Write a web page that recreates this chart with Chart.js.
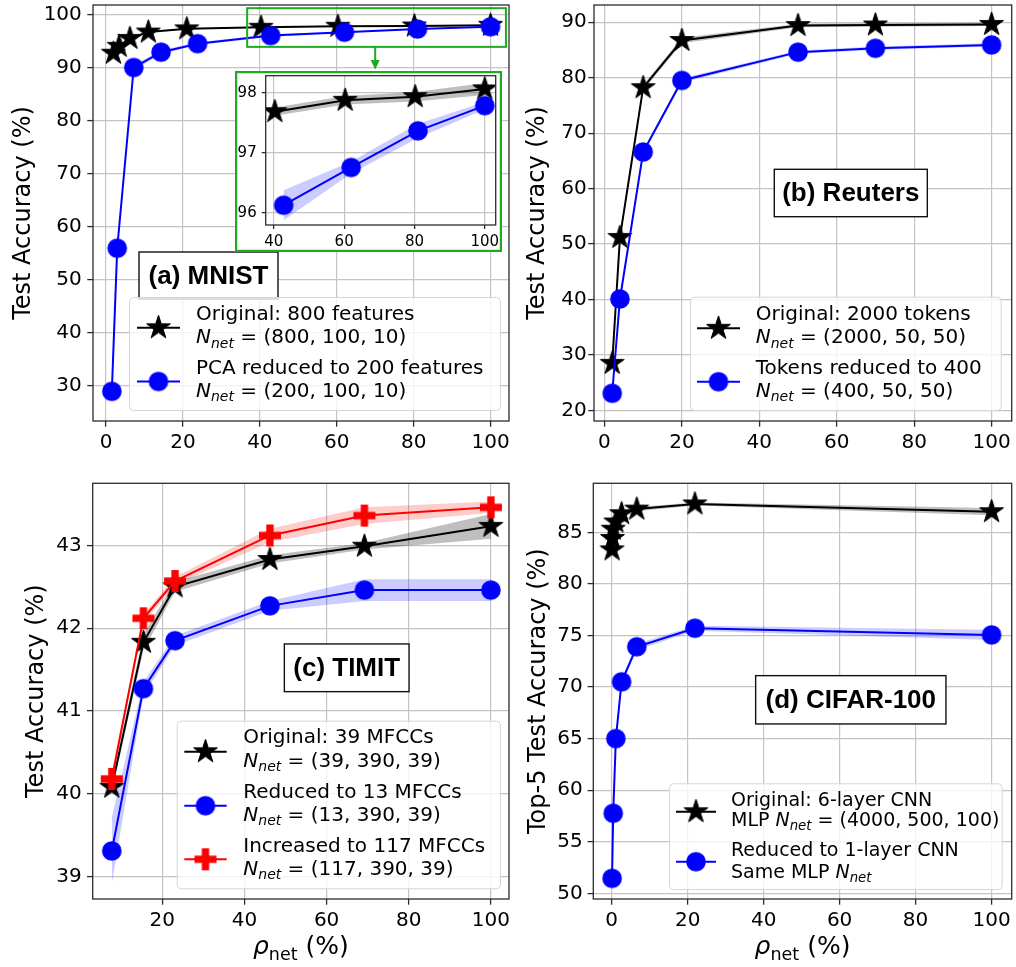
<!DOCTYPE html>
<html><head><meta charset="utf-8">
<script src="https://cdn.jsdelivr.net/npm/chart.js@4.4.0/dist/chart.umd.min.js"></script>
<style>
html,body{margin:0;padding:0;background:#fff;}
#wrap{position:relative;width:1016px;height:967px;overflow:hidden;background:#fff;}
canvas{position:absolute;}
</style></head><body>
<div id="wrap">
<canvas id="cA" width="520" height="470" style="left:0;top:0;width:520px;height:470px"></canvas>
<canvas id="cB" width="511" height="470" style="left:505px;top:0;width:511px;height:470px"></canvas>
<canvas id="cC" width="520" height="497" style="left:0;top:470px;width:520px;height:497px"></canvas>
<canvas id="cD" width="511" height="497" style="left:505px;top:470px;width:511px;height:497px"></canvas>
<canvas id="cI" width="267" height="181" style="left:235px;top:71px;width:267px;height:181px"></canvas>
</div>
<script>
// ---------------- DATA ----------------
// (a) MNIST
const xA_orig = [1.9, 3.4, 6.2, 11, 21, 40.3, 60.3, 80.2, 100];
const yA_orig = [92.8, 94.1, 95.6, 96.8, 97.4, 97.69, 97.88, 97.94, 98.07];
const eA_orig = [0.4, 0.3, 0.25, 0.15, 0.1, 0.07, 0.07, 0.08, 0.1];
const xA_pca = [1.5, 2.9, 7.2, 14.3, 23.8, 42.8, 62, 81, 100];
const yA_pca = [29.0, 56.0, 90.1, 93.0, 94.6, 96.13, 96.76, 97.37, 97.79];
const eA_pca = [2.2, 1.0, 0.5, 0.35, 0.25, 0.25, 0.1, 0.12, 0.06];
const xTicksA = [0, 20, 40, 60, 80, 100];
const yTicksA = [30, 40, 50, 60, 70, 80, 90, 100];
const xTicksInset = [40, 60, 80, 100];
const yTicksInset = [96, 97, 98];
// (b) Reuters
const xB = [2, 4, 10, 20, 50, 70, 100];
const yB_orig = [28.5, 51.2, 78.2, 86.7, 89.4, 89.5, 89.6];
const eB_orig = [0.6, 0.6, 0.5, 0.5, 0.3, 0.3, 0.3];
const yB_red = [23.1, 40.1, 66.6, 79.5, 84.6, 85.3, 85.9];
const eB_red = [0.4, 0.4, 0.4, 0.4, 0.3, 0.3, 0.3];
const xTicksB = [0, 20, 40, 60, 80, 100];
const yTicksB = [20, 30, 40, 50, 60, 70, 80, 90];
// (c) TIMIT
const xC = [7.7, 15.4, 23.1, 46.2, 69.2, 100];
const yC_orig = [40.08, 41.83, 42.5, 42.83, 42.99, 43.23];
const eC_orig = [0.06, 0.1, 0.06, 0.05, 0.04, 0.15];
const yC_13 = [39.31, 41.27, 41.85, 42.27, 42.46, 42.46];
const eC_13 = [0.4, 0.08, 0.06, 0.06, 0.13, 0.13];
const yC_117 = [40.18, 42.12, 42.57, 43.12, 43.36, 43.46];
const eC_117 = [0.08, 0.05, 0.05, 0.08, 0.1, 0.07];
const xTicksC = [20, 40, 60, 80, 100];
const yTicksC = [39, 40, 41, 42, 43];
// (d) CIFAR-100
const xD_orig = [0.1, 0.2, 0.4, 1.1, 2.6, 6.6, 21.9, 100];
const yD_orig = [83.3, 84.4, 85.3, 86.0, 86.8, 87.25, 87.75, 87.0];
const eD_orig = [0.2, 0.2, 0.2, 0.2, 0.2, 0.2, 0.15, 0.35];
const xD_red = [0.1, 0.4, 1.1, 2.6, 6.6, 21.9, 100];
const yD_red = [51.45, 57.76, 65.0, 70.5, 73.9, 75.7, 75.05];
const eD_red = [0.3, 0.3, 0.3, 0.3, 0.3, 0.25, 0.5];
const xTicksD = [0, 20, 40, 60, 80, 100];
const yTicksD = [50, 55, 60, 65, 70, 75, 80, 85];

// ---------------- STYLE ----------------
const F = "'DejaVu Sans', sans-serif";
const LF = "'Liberation Sans', Arial, sans-serif";
const GRID = '#c4c4c4';
const FRAME = '#2b2b2b';
const GREEN = '#1faa1f';
const BLACK = '#000000', BLUE = '#0000ff', RED = '#ff0000';
const BAND_K = 'rgba(0,0,0,0.25)', BAND_B = 'rgba(0,0,255,0.2)', BAND_R = 'rgba(255,0,0,0.2)';
Chart.defaults.font.family = F;

function mk(s){ const c=document.createElement('canvas'); c.width=s; c.height=s; const g=c.getContext('2d'); g.translate(s/2,s/2); return [c,g]; }
function makeStar(R, color){
  const [c,g] = mk(Math.ceil(2*R+4)/2*2);
  g.beginPath();
  for(let i=0;i<10;i++){ const r=i%2===0?R:R*0.382; const a=-Math.PI/2+i*Math.PI/5; const px=r*Math.cos(a), py=r*Math.sin(a); if(i) g.lineTo(px,py); else g.moveTo(px,py); }
  g.closePath(); g.fillStyle=color; g.fill(); g.strokeStyle=color; g.lineWidth=1; g.lineJoin='miter'; g.stroke();
  return c;
}
function makeDot(r, color){
  const [c,g] = mk(Math.ceil(2*r+4)/2*2);
  g.beginPath(); g.arc(0,0,r,0,Math.PI*2); g.fillStyle=color; g.fill();
  return c;
}
function makePlus(W, color){
  const [c,g] = mk(Math.ceil(W+4)/2*2);
  const t=W/3; g.fillStyle=color; g.fillRect(-W/2,-t/2,W,t); g.fillRect(-t/2,-W/2,t,W);
  return c;
}
const STAR = makeStar(12.5, BLACK), DOT = makeDot(9.8, BLUE), PLUS = makePlus(22, RED);

function pts(xs, ys){ return xs.map((x,i)=>({x:x, y:ys[i]})); }

function drawMath(ctx, x, yb, segs, fs){
  let cx = x;
  segs.forEach(s=>{
    const size = s.sub ? fs*0.7 : fs;
    ctx.font = (s.it?'italic ':'') + size + 'px ' + F;
    ctx.fillText(s.t, cx, yb + (s.sub ? fs*0.22 : 0));
    cx += ctx.measureText(s.t).width;
  });
}
function mathWidth(ctx, segs, fs){
  let w=0; segs.forEach(s=>{ const size=s.sub?fs*0.7:fs; ctx.font=(s.it?'italic ':'')+size+'px '+F; w+=ctx.measureText(s.t).width; }); return w;
}
function drawLegend(ctx, L){
  ctx.save();
  ctx.beginPath(); ctx.roundRect(L.box[0]+0.5, L.box[1]+0.5, L.box[2], L.box[3], 4);
  ctx.fillStyle='rgba(255,255,255,0.8)'; ctx.fill(); ctx.strokeStyle='#d6d6d6'; ctx.lineWidth=1; ctx.stroke();
  ctx.textBaseline='alphabetic'; ctx.textAlign='left'; ctx.fillStyle='#000';
  L.entries.forEach(e=>{
    ctx.strokeStyle=e.color; ctx.lineWidth=2; ctx.beginPath(); ctx.moveTo(L.lx0, e.my); ctx.lineTo(L.lx1, e.my); ctx.stroke();
    ctx.drawImage(e.m, (L.lx0+L.lx1)/2 - e.m.width/2, e.my - e.m.height/2);
    e.lines.forEach((ln,k)=>{
      const yb = e.ys[k] + 0.33*L.fs;
      if(typeof ln === 'string'){ ctx.font = L.fs+'px '+F; ctx.fillText(ln, L.tx, yb); }
      else drawMath(ctx, L.tx, yb, ln, L.fs);
    });
  });
  ctx.restore();
}
function drawLabel(ctx, B){
  ctx.save();
  ctx.fillStyle='#fff'; ctx.fillRect(B.cx-B.w/2, B.cy-B.h/2, B.w, B.h);
  ctx.strokeStyle='#111'; ctx.lineWidth=1.4; ctx.strokeRect(B.cx-B.w/2, B.cy-B.h/2, B.w, B.h);
  ctx.fillStyle='#000'; ctx.font='bold 26px '+LF; ctx.textAlign='center'; ctx.textBaseline='middle';
  ctx.fillText(B.text, B.cx, B.cy+1);
  ctx.restore();
}
function drawXTitle(ctx, cx, yb){
  const segs=[{t:'\u03C1',it:true},{t:'net',sub:true},{t:' (%)'}];
  ctx.save(); ctx.fillStyle='#000'; ctx.textAlign='left'; ctx.textBaseline='alphabetic';
  const fs=25; const w=mathWidth(ctx,segs,fs);
  drawMath(ctx, cx-w/2, yb, segs, fs);
  ctx.restore();
}
const NNET = (rest)=>[{t:'N',it:true},{t:'net',it:true,sub:true},{t:rest}];

function makePanel(id, p){
  const datasets=[];
  p.series.forEach(s=>datasets.push({
    data: pts(s.x, s.y), borderColor: s.color, borderWidth: 2, backgroundColor: s.color,
    pointStyle: s.marker, pointRadius: 10, pointHoverRadius: 10, fill: false, order: s.order, tension: 0
  }));
  p.series.forEach(s=>{
    datasets.push({data: pts(s.x, s.y.map((v,i)=>v - s.e[i])), borderColor:'rgba(0,0,0,0)', borderWidth:0, pointRadius:0, fill:false, order:100, tension:0});
    datasets.push({data: pts(s.x, s.y.map((v,i)=>v + s.e[i])), borderColor:'rgba(0,0,0,0)', borderWidth:0, pointRadius:0, fill:'-1', backgroundColor:s.band, order:100, tension:0});
  });
  const axis = (ticksArr, min, max, pad, extra)=>Object.assign({
    type:'linear', min:min, max:max,
    afterBuildTicks: sc=>{ sc.ticks = ticksArr.map(v=>({value:v})); },
    grid:{color:GRID, lineWidth:1.2, drawTicks:true, tickLength:p.tl, tickColor:FRAME, tickWidth:1.3},
    border:{display:false},
    ticks:{font:{family:F,size:p.fs}, color:'#000', padding:pad, maxRotation:0, autoSkip:false}
  }, extra);
  const plugin = {
    id:'extras_'+id,
    beforeDraw(chart){ if(p.bg){ const c=chart.ctx; c.save(); c.fillStyle='#fff'; c.fillRect(0,0,chart.width,chart.height); c.restore(); } },
    afterDraw(chart){
      const ctx=chart.ctx, a=chart.chartArea;
      ctx.save(); ctx.strokeStyle=FRAME; ctx.lineWidth=1.3; ctx.strokeRect(a.left, a.top, a.right-a.left, a.bottom-a.top); ctx.restore();
      if(p.zoomRect){
        const xs=chart.scales.x, ys=chart.scales.y, z=p.zoomRect;
        const x0=xs.getPixelForValue(z[0]), x1=xs.getPixelForValue(z[1]), y0=ys.getPixelForValue(z[3]), y1=ys.getPixelForValue(z[2]);
        ctx.save(); ctx.strokeStyle=GREEN; ctx.lineWidth=2; ctx.strokeRect(x0,y0,x1-x0,y1-y0);
        const ax=xs.getPixelForValue(z[4]);
        ctx.beginPath(); ctx.moveTo(ax,y1); ctx.lineTo(ax,62); ctx.stroke();
        ctx.fillStyle=GREEN; ctx.beginPath(); ctx.moveTo(ax-4.5,60); ctx.lineTo(ax+4.5,60); ctx.lineTo(ax,69.5); ctx.closePath(); ctx.fill();
        ctx.restore();
      }
      if(p.label) drawLabel(ctx, p.label);
      if(p.legend) drawLegend(ctx, p.legend);
      if(p.xtitle) drawXTitle(ctx, (a.left+a.right)/2, p.xtitle);
      if(p.greenBorder){ ctx.save(); ctx.strokeStyle=GREEN; ctx.lineWidth=2.2; ctx.strokeRect(1.1,1.1,chart.width-2.2,chart.height-2.2); ctx.restore(); }
    }
  };
  return new Chart(document.getElementById(id), {
    type:'line',
    data:{datasets:datasets},
    options:{
      responsive:false, animation:false, devicePixelRatio:1, events:[],
      layout:{padding:p.pad, autoPadding:false},
      plugins:{legend:{display:false}, tooltip:{enabled:false}},
      scales:{
        x: axis(p.xticks, p.xmin, p.xmax, p.xpad, {afterFit: sc=>{ sc.height=p.xh; sc.paddingLeft=0; sc.paddingRight=0; sc.paddingTop=0; sc.paddingBottom=0; }}),
        y: axis(p.yticks, p.ymin, p.ymax, p.ypad, {afterFit: sc=>{ sc.width=p.yw; sc.paddingLeft=0; sc.paddingRight=0; sc.paddingTop=0; sc.paddingBottom=0; },
             title: p.ytitle ? {display:true, text:p.ytitle, color:'#000', font:{family:F,size:24}, padding:{top:p.ytp,bottom:0}} : {display:false}})
      }
    },
    plugins:[plugin]
  });
}

// ---------------- PANELS ----------------
makePanel('cA', {
  series:[
    {x:xA_orig, y:yA_orig, e:eA_orig, color:BLACK, marker:STAR, band:BAND_K, order:3},
    {x:xA_pca, y:yA_pca, e:eA_pca, color:BLUE, marker:DOT, band:BAND_B, order:2}
  ],
  xmin:-3.4, xmax:104.8, ymin:23.4, ymax:101.9, xticks:xTicksA, yticks:yTicksA,
  pad:{left:0, top:5, right:11, bottom:0}, yw:93, xh:49, tl:5.7, fs:20, xpad:4.5, ypad:5.5,
  ytitle:'Test Accuracy (%)', ytp:8.9,
  zoomRect:[36.7, 104, 94.0, 101.3, 70],
  label:{text:'(a) MNIST', cx:208.5, cy:275.5, w:139, h:47},
  legend:{box:[129,297,371,113], lx0:137, lx1:180, tx:196, fs:20, entries:[
    {m:STAR, color:BLACK, my:327.7, ys:[313.3,336.7], lines:['Original: 800 features', NNET(' = (800, 100, 10)')]},
    {m:DOT, color:BLUE, my:381.5, ys:[367,390], lines:['PCA reduced to 200 features', NNET(' = (200, 100, 10)')]}
  ]}
});

makePanel('cI', {
  series:[
    {x:xA_orig.slice(5), y:yA_orig.slice(5), e:eA_orig.slice(5), color:BLACK, marker:STAR, band:BAND_K, order:3},
    {x:xA_pca.slice(5), y:yA_pca.slice(5), e:eA_pca.slice(5), color:BLUE, marker:DOT, band:BAND_B, order:2}
  ],
  xmin:37.7, xmax:103.1, ymin:95.8, ymax:98.29, xticks:xTicksInset, yticks:yTicksInset,
  pad:{left:0, top:4.7, right:6.3, bottom:0}, yw:30.7, xh:27, tl:4, fs:15, xpad:4.5, ypad:5,
  bg:true, greenBorder:true
});

makePanel('cB', {
  series:[
    {x:xB, y:yB_orig, e:eB_orig, color:BLACK, marker:STAR, band:BAND_K, order:3},
    {x:xB, y:yB_red, e:eB_red, color:BLUE, marker:DOT, band:BAND_B, order:2}
  ],
  xmin:-2.7, xmax:105.2, ymin:18.1, ymax:93.1, xticks:xTicksB, yticks:yTicksB,
  pad:{left:0, top:5, right:4.3, bottom:0}, yw:89, xh:49, tl:5.7, fs:20, xpad:4.5, ypad:1.5,
  ytitle:'Test Accuracy (%)', ytp:18.1,
  label:{text:'(b) Reuters', cx:345.8, cy:193, w:153, h:47.4},
  legend:{box:[185,296.7,310.7,113.3], lx0:192, lx1:235, tx:250.7, fs:20, entries:[
    {m:STAR, color:BLACK, my:328.3, ys:[313.3,336.7], lines:['Original: 2000 tokens', NNET(' = (2000, 50, 50)')]},
    {m:DOT, color:BLUE, my:381.7, ys:[367.7,390], lines:['Tokens reduced to 400', NNET(' = (400, 50, 50)')]}
  ]}
});

makePanel('cC', {
  series:[
    {x:xC, y:yC_orig, e:eC_orig, color:BLACK, marker:STAR, band:BAND_K, order:3},
    {x:xC, y:yC_13, e:eC_13, color:BLUE, marker:DOT, band:BAND_B, order:2},
    {x:xC, y:yC_117, e:eC_117, color:RED, marker:PLUS, band:BAND_R, order:1}
  ],
  xmin:3.06, xmax:104.4, ymin:38.73, ymax:43.75, xticks:xTicksC, yticks:yTicksC,
  pad:{left:0, top:13.3, right:11, bottom:0}, yw:92.7, xh:68, tl:5.7, fs:20, xpad:4.5, ypad:5.3,
  ytitle:'Test Accuracy (%)', ytp:22.3, xtitle:484,
  label:{text:'(c) TIMIT', cx:346.7, cy:197.8, w:124.7, h:47.7},
  legend:{box:[176.7,250.7,323.3,167.6], lx0:184.3, lx1:226.7, tx:243.3, fs:20, entries:[
    {m:STAR, color:BLACK, my:281.7, ys:[266.7,290], lines:['Original: 39 MFCCs', NNET(' = (39, 390, 39)')]},
    {m:DOT, color:BLUE, my:335.7, ys:[321.7,344.3], lines:['Reduced to 13 MFCCs', NNET(' = (13, 390, 39)')]},
    {m:PLUS, color:RED, my:389.3, ys:[375.7,398.3], lines:['Increased to 117 MFCCs', NNET(' = (117, 390, 39)')]}
  ]}
});

makePanel('cD', {
  series:[
    {x:xD_orig, y:yD_orig, e:eD_orig, color:BLACK, marker:STAR, band:BAND_K, order:3},
    {x:xD_red, y:yD_red, e:eD_red, color:BLUE, marker:DOT, band:BAND_B, order:2}
  ],
  xmin:-4.84, xmax:105.3, ymin:49.45, ymax:89.75, xticks:xTicksD, yticks:yTicksD,
  pad:{left:0, top:13.3, right:4.3, bottom:0}, yw:88.3, xh:68, tl:5.7, fs:20, xpad:4.5, ypad:5,
  ytitle:'Top-5 Test Accuracy (%)', ytp:18.9, xtitle:484,
  label:{text:'(d) CIFAR-100', cx:345.8, cy:229.8, w:190.3, h:48.3},
  legend:{box:[164,313.3,332.7,105.7], lx0:171, lx1:211, tx:226, fs:19, entries:[
    {m:STAR, color:BLACK, my:341.7, ys:[329.3,350], lines:['Original: 6-layer CNN', [{t:'MLP '},{t:'N',it:true},{t:'net',it:true,sub:true},{t:' = (4000, 500, 100)'}]]},
    {m:DOT, color:BLUE, my:391.7, ys:[380,401.7], lines:['Reduced to 1-layer CNN', [{t:'Same MLP '},{t:'N',it:true},{t:'net',it:true,sub:true}]]}
  ]}
});
</script>
</body></html>
